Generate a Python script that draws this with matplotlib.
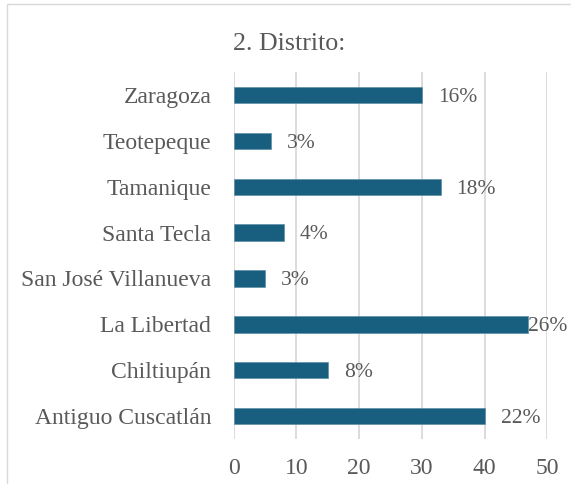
import matplotlib.pyplot as plt
from matplotlib.patches import Rectangle

# data (counts per district)
distritos = ['Antiguo Cuscatlán', 'Chiltiupán', 'La Libertad', 'San José Villanueva',
             'Santa Tecla', 'Tamanique', 'Teotepeque', 'Zaragoza']
conteos = [40, 15, 47, 5, 8, 33, 6, 30]
etiquetas = ['22%', '8%', '26%', '3%', '4%', '18%', '3%', '16%']
xticks = [0, 10, 20, 30, 40, 50]

plt.rcParams['font.family'] = ['Liberation Serif', 'DejaVu Serif']
gris = '#595959'
azul = '#175e7f'

fig = plt.figure(figsize=(5.71, 4.84), dpi=100)
ax = fig.add_axes([0.409, 0.093, 0.5495, 0.758])

ypos = range(len(distritos))
ax.barh(ypos, conteos, height=0.36, color=azul, edgecolor='#5f8fa8', linewidth=0.5, zorder=3)

for y, v, t in zip(ypos, conteos, etiquetas):
    # excel pushes the label left when it would run out of the chart
    ax.text(min(v + 2.55, 47.0), y - 0.05, t, va='center', ha='left', fontsize=15.5,
            color=gris, zorder=4)

ax.set_xlim(0, 50)
ax.set_ylim(-0.5, len(distritos) - 0.5)
ax.set_xticks(xticks)
ax.set_yticks(list(ypos))
ax.set_yticklabels(distritos)
ax.tick_params(axis='both', length=0, labelsize=17, labelcolor=gris)
ax.tick_params(axis='y', pad=16)
ax.tick_params(axis='x', pad=14)
ax.grid(axis='x', color='#d9d9d9', linewidth=1.3, zorder=0)
for s in ax.spines.values():
    s.set_visible(False)

fig.text(0.506, 0.91, '2. Distrito:', ha='center', va='center', fontsize=18.7, color=gris)

# outer chart frame
fig.patches.append(Rectangle((7 / 571, -0.1), 1.2, 1 - 4 / 484 + 0.1, transform=fig.transFigure,
                             fill=False, edgecolor='#d9d9d9', linewidth=1.0))

fig.savefig('out.png', dpi=100)
